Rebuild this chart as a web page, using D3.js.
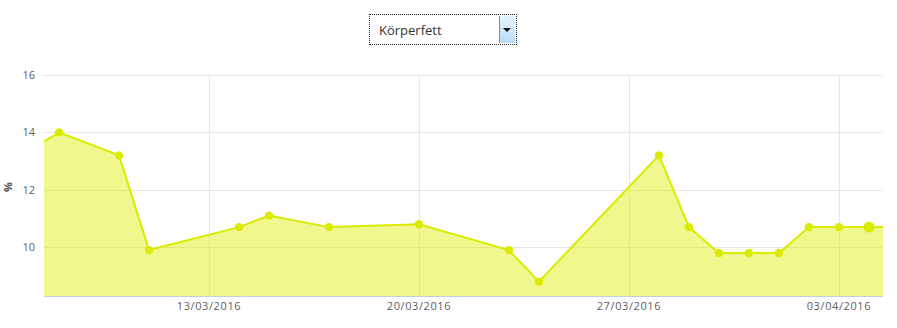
<!DOCTYPE html>
<html><head><meta charset="utf-8">
<script src="https://cdnjs.cloudflare.com/ajax/libs/d3/7.8.5/d3.min.js"></script>
<style>
html,body{margin:0;padding:0;background:#fff;width:897px;height:328px;overflow:hidden;}
#sel{position:absolute;left:369px;top:14px;width:148px;height:31px;border:1px dotted #222;box-sizing:border-box;background:#fff;font-family:"Open Sans","Noto Sans",sans-serif;font-size:13px;color:#333;}
#sel .txt{position:absolute;left:9px;top:6px;}
#sel .btn{position:absolute;right:1px;top:1px;width:16px;height:27px;border-left:1px solid #6a8fb0;background:linear-gradient(#e6f2fc,#b9dcf6);box-sizing:border-box;}
#sel .btn:after{content:"";position:absolute;left:3px;top:12px;border-left:4px solid transparent;border-right:4px solid transparent;border-top:4px solid #111;}
svg{position:absolute;left:0;top:0;}
</style></head><body>
<div id="sel"><span class="txt">Körperfett</span><span class="btn"></span></div>
<svg id="chart" width="897" height="328"></svg>
<script>
const dates = ["2016-03-06","2016-03-08","2016-03-10","2016-03-11","2016-03-14","2016-03-15","2016-03-17","2016-03-20","2016-03-23","2016-03-24","2016-03-28","2016-03-29","2016-03-30","2016-03-31","2016-04-01","2016-04-02","2016-04-03","2016-04-04","2016-04-05"];
const values = [12.75,14.0,13.2,9.9,10.7,11.1,10.7,10.8,9.9,8.8,13.2,10.7,9.8,9.8,9.8,10.7,10.7,10.7,10.7];
const yTicks = [10,12,14,16];
const xTickDates = ["2016-03-13","2016-03-20","2016-03-27","2016-04-03"];
const yLabel = "%";
const hoverDate = "2016-04-04";
const xStart = "2016-03-07T12:00", xEnd = "2016-04-04T11:16";

const parse = s => new Date(s.length>10 ? s : s+"T00:00");
const data = dates.map((d,i)=>({d:parse(d), v:values[i]}));
const m = {l:44, r:883, t:75, b:296};
const x = d3.scaleTime().domain([parse(xStart), parse(xEnd)]).range([m.l, m.r]);
const y = d3.scaleLinear().domain([8.3,16]).range([m.b, m.t]);
const svg = d3.select("#chart");
const font = '"Open Sans","Noto Sans",sans-serif';

// grid
svg.append("g").selectAll("line").data(yTicks).join("line")
  .attr("x1",m.l).attr("x2",m.r).attr("y1",d=>Math.round(y(d))+0.5).attr("y2",d=>Math.round(y(d))+0.5)
  .attr("stroke","#e6e6e6");
svg.append("g").selectAll("line").data(xTickDates.map(parse)).join("line")
  .attr("y1",m.t).attr("y2",m.b).attr("x1",d=>Math.round(x(d))+0.5).attr("x2",d=>Math.round(x(d))+0.5)
  .attr("stroke","#e6e6e6");

svg.append("defs").append("clipPath").attr("id","clip").append("rect")
  .attr("x",m.l).attr("y",m.t-10).attr("width",m.r-m.l).attr("height",m.b-m.t+10);
const g = svg.append("g").attr("clip-path","url(#clip)");
g.append("path").datum(data)
  .attr("d", d3.area().x(d=>x(d.d)).y0(m.b).y1(d=>y(d.v)))
  .attr("fill","#dded00").attr("fill-opacity",0.45);
g.append("path").datum(data)
  .attr("d", d3.line().x(d=>x(d.d)).y(d=>y(d.v)))
  .attr("fill","none").attr("stroke","#d9ec00").attr("stroke-width",2);

// x axis line
svg.append("line").attr("x1",m.l).attr("x2",m.r).attr("y1",m.b+0.5).attr("y2",m.b+0.5).attr("stroke","#c0d0e0");

// markers
const hd = parse(hoverDate).getTime();
svg.append("g").selectAll("circle").data(data.filter(d=>x(d.d)>=m.l && x(d.d)<=m.r)).join("circle")
  .attr("cx",d=>x(d.d)).attr("cy",d=>y(d.v)).attr("r",d=>d.d.getTime()===hd?5.5:4.2)
  .attr("fill","#d9ec00");

// labels
const fmt = d3.timeFormat("%d/%m/%Y");
svg.append("g").selectAll("text").data(xTickDates.map(parse)).join("text")
  .attr("x",d=>x(d)).attr("y",310).attr("text-anchor","middle")
  .attr("font-family",font).attr("font-size","11px").attr("fill","#606060").attr("letter-spacing","0.6px")
  .text(d=>fmt(d));
svg.append("g").selectAll("text").data(yTicks).join("text")
  .attr("x",35).attr("y",d=>y(d)+4).attr("text-anchor","end")
  .attr("font-family",font).attr("font-size","11px").attr("fill","#606060")
  .text(d=>d);
svg.append("text").attr("transform","translate(12,187) rotate(-90)").attr("text-anchor","middle")
  .attr("font-family",font).attr("font-size","11px").attr("font-weight","bold").attr("fill","#4d4d4d")
  .text(yLabel);
</script>
</body></html>
